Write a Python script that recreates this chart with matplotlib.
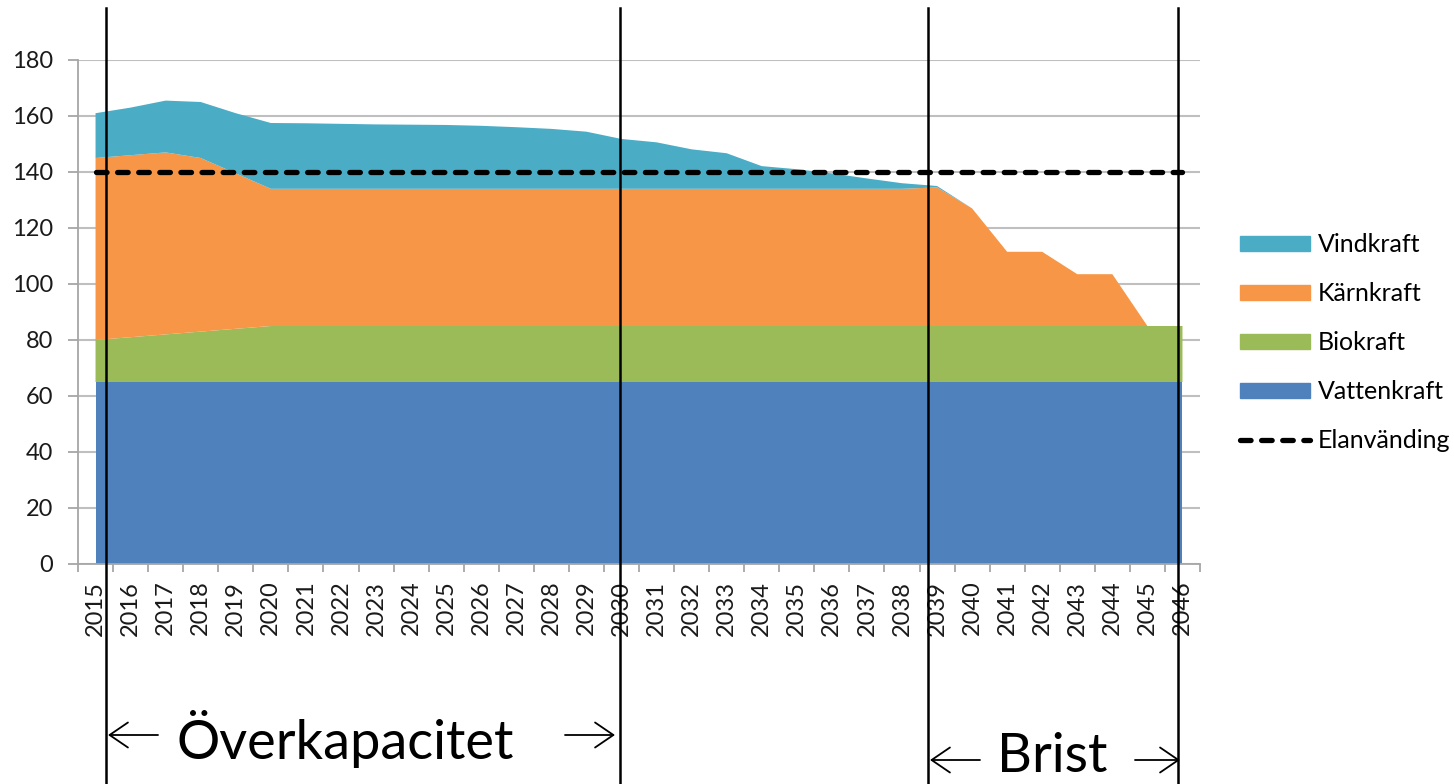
import numpy as np
import matplotlib.pyplot as plt
from matplotlib.lines import Line2D
from matplotlib.patches import Patch, FancyArrowPatch

plt.rcParams['font.family'] = ['Lato', 'DejaVu Sans']

# data
years = [2015, 2016, 2017, 2018, 2019, 2020, 2021, 2022, 2023, 2024, 2025,
         2026, 2027, 2028, 2029, 2030, 2031, 2032, 2033, 2034, 2035, 2036,
         2037, 2038, 2039, 2040, 2041, 2042, 2043, 2044, 2045, 2046]
vattenkraft = [65, 65, 65, 65, 65, 65, 65, 65, 65, 65, 65, 65, 65, 65, 65, 65,
               65, 65, 65, 65, 65, 65, 65, 65, 65, 65, 65, 65, 65, 65, 65, 65]
biokraft = [15, 16, 17, 18, 19, 20, 20, 20, 20, 20, 20, 20, 20, 20, 20, 20,
            20, 20, 20, 20, 20, 20, 20, 20, 20, 20, 20, 20, 20, 20, 20, 20]
karnkraft = [65, 65, 65, 62, 55.5, 49, 49, 49, 49, 49, 49, 49, 49, 49, 49, 49,
             49, 49, 49, 49, 49, 49, 49, 49, 49.5, 42, 26.5, 26.5, 18.5, 18.5, 0, 0]
vindkraft = [16, 17, 18.5, 20, 21.5, 23.5, 23.4, 23.2, 23, 22.9, 22.8, 22.5,
             22, 21.4, 20.4, 17.8, 16.6, 14.1, 12.7, 8.1, 7, 5.5, 3.7, 2, 0.5,
             0, 0, 0, 0, 0, 0, 0]
elanvandning = [140] * 32

colors = {'Vattenkraft': '#4F81BD', 'Biokraft': '#9BBB59',
          'Kärnkraft': '#F79646', 'Vindkraft': '#4BACC6'}

W, H = 1454, 784
fig = plt.figure(figsize=(W / 100, H / 100), dpi=100)
ax = fig.add_axes([78 / W, 1 - 564 / H, (1200 - 78) / W, (564 - 60) / H])

x = np.arange(len(years))
ax.stackplot(x, vattenkraft, biokraft, karnkraft, vindkraft,
             colors=[colors['Vattenkraft'], colors['Biokraft'],
                     colors['Kärnkraft'], colors['Vindkraft']],
             linewidth=0, zorder=2)
ax.plot(x, elanvandning, color='black', lw=3.8, dashes=(2, 2),
        dash_capstyle='round', zorder=3)

ax.set_xlim(-0.5, len(years) - 0.5)
ax.set_ylim(0, 180)
ax.set_yticks(range(0, 181, 20))
ax.yaxis.grid(True, color='#BFBFBF', lw=1.5)
ax.set_axisbelow(True)

ax.set_xticks(x)
ax.set_xticklabels([str(y) for y in years], rotation=90)
ax.set_xticks(np.arange(-0.5, len(years)), minor=True)
ax.tick_params(axis='x', which='major', length=0, pad=12, labelsize=17,
               labelcolor='#1a1a1a')
ax.tick_params(axis='x', which='minor', length=6, width=1.3, color='#A6A6A6')
ax.tick_params(axis='y', length=7, width=1.3, color='#A6A6A6', pad=11,
               labelsize=17, labelcolor='#1a1a1a')
for s in ['top', 'right']:
    ax.spines[s].set_visible(False)
for s in ['left', 'bottom']:
    ax.spines[s].set_color('#A6A6A6')
    ax.spines[s].set_linewidth(1.3)

handles = [Patch(color=colors['Vindkraft']), Patch(color=colors['Kärnkraft']),
           Patch(color=colors['Biokraft']), Patch(color=colors['Vattenkraft']),
           Line2D([], [], color='black', lw=3.8, dashes=(2, 2),
                  dash_capstyle='round')]
labels = ['Vindkraft', 'Kärnkraft', 'Biokraft', 'Vattenkraft', 'Elanvänding']
fig.legend(handles, labels, loc='upper left',
           bbox_to_anchor=(1240 / W, 1 - 233 / H), frameon=False,
           fontsize=18, handlelength=2.8, handleheight=0.55,
           handletextpad=0.3, labelspacing=1.04, borderpad=0,
           borderaxespad=0)

# vertical markers and annotations
for px in [106, 620, 928, 1178]:
    fig.add_artist(Line2D([px / W, px / W], [0, 1 - 8 / H],
                          transform=fig.transFigure, color='black', lw=1.8))

fig.text(345 / W, 1 - 759 / H, 'Överkapacitet', ha='center', va='baseline',
         fontsize=39)
fig.text(1052 / W, 1 - 772 / H, 'Brist', ha='center', va='baseline',
         fontsize=39)

arrows = [((158, 735), (108, 735)), ((565, 735), (615, 735)),
          ((980, 760), (930, 760)), ((1135, 760), (1180, 760))]
for (x0, y0), (x1, y1) in arrows:
    fig.add_artist(FancyArrowPatch((x0 / W, 1 - y0 / H), (x1 / W, 1 - y1 / H),
                                   transform=fig.transFigure,
                                   arrowstyle='->,head_length=1.1,head_width=0.75',
                                   mutation_scale=12, lw=1.3, color='black',
                                   shrinkA=0, shrinkB=0))

fig.savefig('out.png', dpi=100)
